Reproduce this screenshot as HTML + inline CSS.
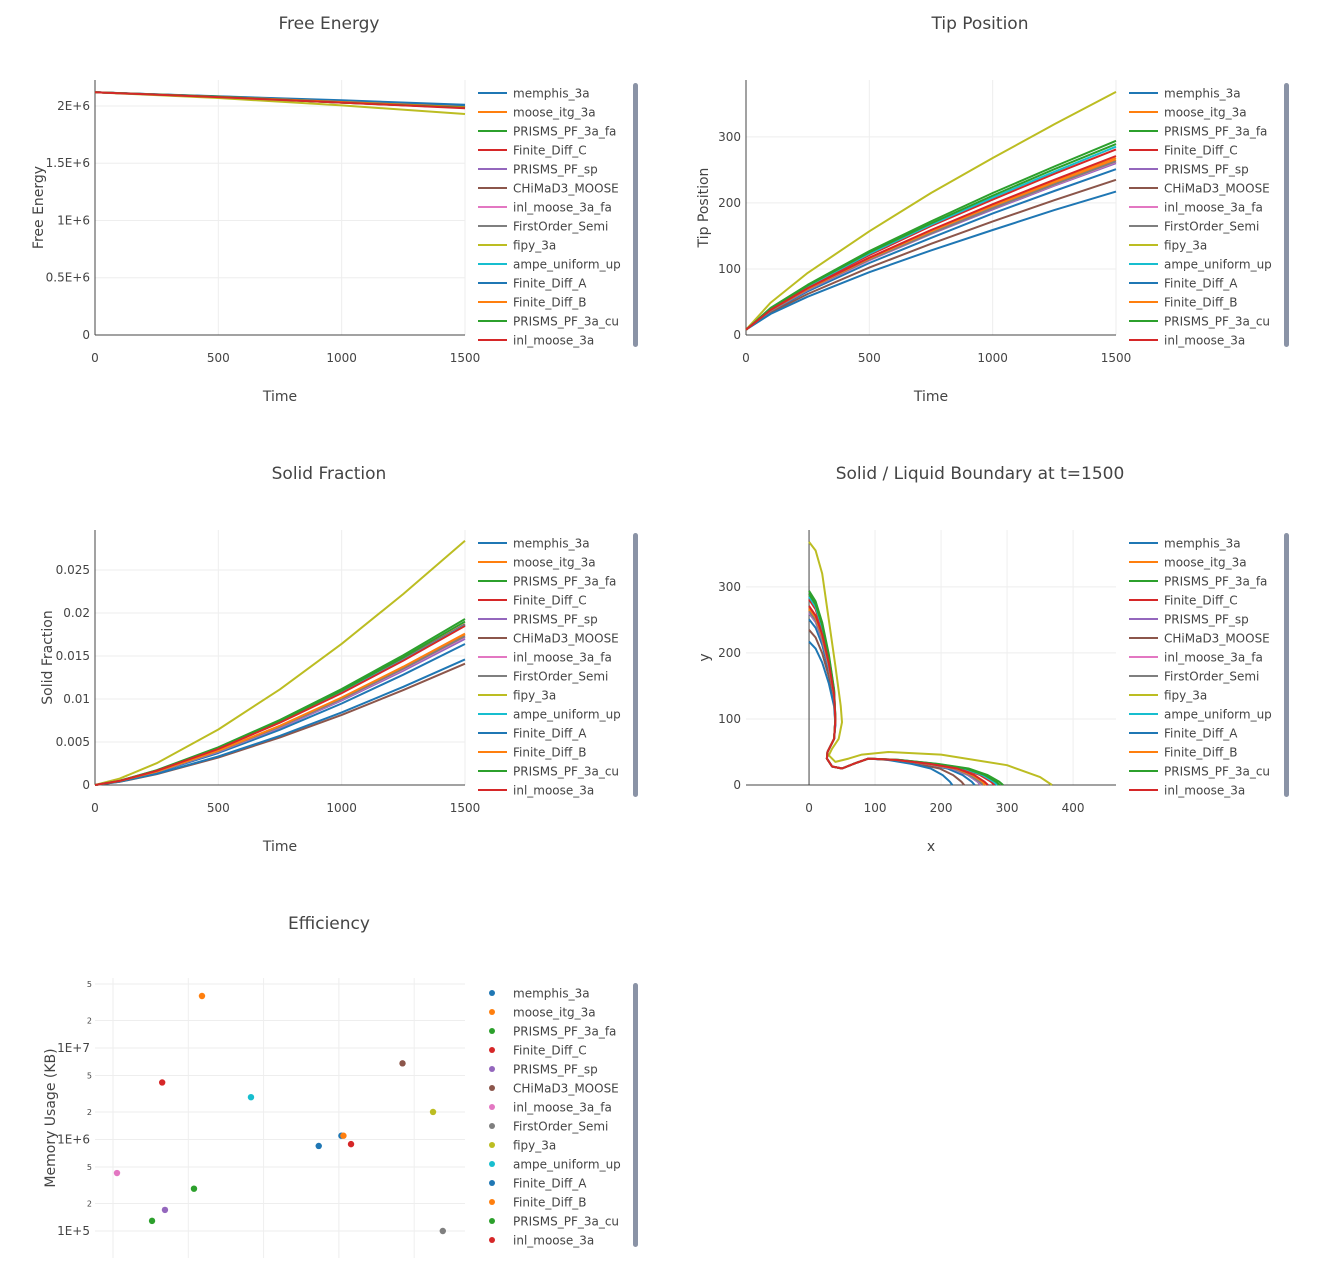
<!DOCTYPE html>
<html><head><meta charset="utf-8">
<style>
body{margin:0;background:#fff;}
svg{font-family:"DejaVu Sans","Liberation Sans",sans-serif;}
</style></head>
<body>
<svg id="root" width="1322" height="1273" xmlns="http://www.w3.org/2000/svg"></svg>
<script>
const seriesNames=["memphis_3a","moose_itg_3a","PRISMS_PF_3a_fa","Finite_Diff_C","PRISMS_PF_sp","CHiMaD3_MOOSE","inl_moose_3a_fa","FirstOrder_Semi","fipy_3a","ampe_uniform_up","Finite_Diff_A","Finite_Diff_B","PRISMS_PF_3a_cu","inl_moose_3a"];
const seriesColors=["#1f77b4","#ff7f0e","#2ca02c","#d62728","#9467bd","#8c564b","#e377c2","#7f7f7f","#bcbd22","#17becf","#1f77b4","#ff7f0e","#2ca02c","#d62728"];
const feTimes=[0,500,1000,1500];
const freeEnergyE6=[
[2.12,2.085,2.05,2.01],[2.12,2.08,2.035,1.99],[2.12,2.08,2.03,1.985],[2.12,2.08,2.03,1.985],
[2.12,2.08,2.035,1.99],[2.12,2.082,2.04,1.995],[2.12,2.08,2.035,1.99],[2.12,2.08,2.035,1.99],
[2.12,2.07,2.005,1.93],[2.12,2.08,2.035,1.99],[2.12,2.083,2.045,2.005],[2.12,2.08,2.035,1.99],
[2.12,2.08,2.03,1.985],[2.12,2.078,2.03,1.98]];
const tipTimes=[0,100,250,500,750,1000,1250,1500];
const tipPos=[
[8,36,66,109,147,184,218,251],[8,38,69,115,156,194,230,265],[8,41,76,127,172,215,255,294],[8,39,73,121,165,205,244,281],
[8,37,68,113,153,190,226,260],[8,34,62,102,138,172,204,235],[8,37,69,113,154,192,227,262],[8,37,69,114,154,192,228,263],
[8,49,94,157,215,268,319,368],[8,40,74,123,167,208,247,285],[8,32,58,95,128,159,189,217],[8,38,70,116,157,196,233,268],
[8,40,75,125,169,211,251,289],[8,38,71,117,159,198,235,271]];
const sfTimes=[0,100,250,500,750,1000,1250,1500];
const solidFracE4=[
[0,4.3,14.6,37.2,64.3,94.8,128.2,164],[0,4.6,15.6,39.7,68.6,101.2,136.9,175],[0,5.0,17.2,43.8,75.7,111.6,150.9,193],[0,4.9,16.6,42.4,73.3,108.1,146.2,187],
[0,4.4,15.1,38.6,66.6,98.3,132.9,170],[0,3.7,12.5,32.0,55.3,81.5,110.3,141],[0,4.5,15.3,39.0,67.4,99.4,134.5,172],[0,4.5,15.4,39.3,67.8,100.0,135.3,173],
[0,7.4,25.3,64.5,111.3,164.2,222.1,284],[0,4.8,16.6,42.2,72.9,107.5,145.5,186],[0,3.8,13.0,33.1,57.2,84.4,114.2,146],[0,4.6,15.7,40.0,69.0,101.7,137.6,176],
[0,4.9,16.9,43.1,74.5,109.8,148.6,190],[0,4.8,16.5,42.0,72.5,106.9,144.7,185]];
const boundaryTipY=[251,265,294,281,260,235,262,263,368,285,217,268,289,271];
const boundaryTipX=[251,265,294,281,260,235,262,263,368,285,217,268,289,271];
const shapeUpperX=[0,10,20,30,38,40,38,28,27,35,50,70,90];
const shapeUpperY=[280,265,235,190,140,100,70,50,40,28,25,33,40];
const shapeLowerX=[130,180,220,245,260,265];
const shapeLowerY=[38,32,25,15,5,0];
const fipyShapeX=[0,10,20,30,40,48,50,45,35,30,40,60,80,120,200,300,350,368];
const fipyShapeY=[368,355,320,250,180,120,95,70,55,45,35,40,46,50,46,30,12,0];
const effTime=[5.4,0.152,0.119,0.045,0.049,70,0.0113,240,178,0.68,10.8,11.5,0.033,14.5];
const effMem=[8.5e5,3.7e7,2.9e5,4.2e6,1.7e5,6.8e6,4.3e5,1.0e5,2.0e6,2.9e6,1.1e6,1.1e6,1.29e5,8.9e5];
const feYTicks=[0,0.5e6,1e6,1.5e6,2e6];
const feYLabels=["0","0.5E+6","1E+6","1.5E+6","2E+6"];
const timeTicks=[0,500,1000,1500];
const tipYTicks=[0,100,200,300];
const sfYTicks=[0,0.005,0.01,0.015,0.02,0.025];
const sfYLabels=["0","0.005","0.01","0.015","0.02","0.025"];
const bXTicks=[0,100,200,300,400];
const bYTicks=[0,100,200,300];
const effXTicks=[0.01,0.1,1,10,100];
const effXLabels=["0.01","0.1","1","10","100"];

const NS="http://www.w3.org/2000/svg";
const root=document.getElementById('root');
function mk(tag,attrs,parent){const e=document.createElementNS(NS,tag);for(const k in attrs)e.setAttribute(k,attrs[k]);(parent||root).appendChild(e);return e;}
function txt(s,attrs,parent){const e=mk('text',attrs,parent);e.textContent=s;return e;}

function panel(o){
  const g=mk('g',{});
  
  
  const sx=v=>o.px0+(o.logx?(Math.log10(v)-o.xmin):(v-o.xmin))/(o.xmax-o.xmin)*(o.px1-o.px0);
  const sy=v=>o.py0-(o.logy?(Math.log10(v)-o.ymin):(v-o.ymin))/(o.ymax-o.ymin)*(o.py0-o.py1);
  // grid
  o.xticks.forEach((t,i)=>{const x=sx(t);
    const l=mk('line',{x1:x,x2:x,y1:o.py1,y2:o.py0,stroke:'#eee','stroke-width':1},g);
    
    const tl=txt(o.xlabels?o.xlabels[i]:String(t),{x:x,y:o.py0+27,'font-size':12,fill:'#444','text-anchor':'middle'},g);
    });
  o.yticks.forEach((t,i)=>{const y=sy(t);
    const l=mk('line',{x1:o.px0,x2:o.px1,y1:y,y2:y,stroke:'#eee','stroke-width':1},g);
    
    const tl=txt(o.ylabels?o.ylabels[i]:String(t),{x:o.px0-(o.yzero?4:3)-2,y:y+4,'font-size':12,fill:'#444','text-anchor':'end'},g);
    });
  if(o.minorY){o.minorY.forEach(m=>{const y=sy(m.v);
    mk('line',{x1:o.px0,x2:o.px1,y1:y,y2:y,stroke:'#eee','stroke-width':1},g);
    const tl=txt(m.l,{x:o.px0-3,y:y+3,'font-size':8,fill:'#444','text-anchor':'end'},g);
    });}
  if(o.zeroX!==undefined){const x=sx(o.zeroX);const l=mk('line',{x1:x,x2:x,y1:o.py1,y2:o.py0,stroke:'#444','stroke-width':1},g);
    }
  if(o.zeroY!==undefined){const y=sy(o.zeroY);const l=mk('line',{x1:o.px0,x2:o.px1,y1:y,y2:y,stroke:'#444','stroke-width':1},g);
    }
  const t=txt(o.title,{x:o.tx,y:29,'font-size':17,fill:'#444','text-anchor':'middle'},g);
  t.setAttribute('y',o.ty);
  
  const xt=txt(o.xtitle,{x:(o.px0+o.px1)/2,y:o.py0+66,'font-size':14,fill:'#444','text-anchor':'middle'},g);
  
  const yc=(o.py0+o.py1)/2;
  const yt=txt(o.ytitle,{x:o.ytx,y:yc,'font-size':14,fill:'#444','text-anchor':'middle',transform:`rotate(-90 ${o.ytx} ${yc})`},g);
  
  return {g,sx,sy};
}
function line(p,xs,ys,color,name){
  const d=xs.map((x,i)=>(i?'L':'M')+p.sx(x).toFixed(1)+','+p.sy(ys[i]).toFixed(1)).join('');
  const e=mk('path',{d:d,fill:'none',stroke:color,'stroke-width':2,'stroke-linejoin':'round'},p.g);
  
  
}
function legend(x0,y0,markers){
  const g=mk('g',{});
  
  
  seriesNames.forEach((n,i)=>{const y=y0+i*19;
    const eg=mk('g',{},g);
    
    
    if(markers) mk('circle',{cx:x0+14,cy:y,r:3,fill:seriesColors[i]},eg);
    else mk('line',{x1:x0,x2:x0+29,y1:y,y2:y,stroke:seriesColors[i],'stroke-width':2},eg);
    txt(n,{x:x0+35,y:y+4.5,'font-size':12,fill:'#444'},eg);});
  const sb=mk('rect',{x:x0+155,y:y0-10,width:5,height:264,rx:2.5,fill:'#8a93a6'},g);
  
}

// Free energy
let p=panel({name:'free-energy-chart',px0:95,px1:465,py0:335,py1:80,xmin:0,xmax:1500,ymin:0,ymax:2.227e6,
 xticks:timeTicks,yticks:feYTicks,ylabels:feYLabels,zeroX:0,zeroY:0,title:'Free Energy',tx:329,ty:29,xtitle:'Time',ytitle:'Free Energy',ytx:43});
freeEnergyE6.forEach((s,i)=>line(p,feTimes,s.map(v=>v*1e6),seriesColors[i],'free-energy-line'));
legend(478,93,false);

// Tip position
p=panel({name:'tip-position-chart',px0:746,px1:1116,py0:335,py1:80,xmin:0,xmax:1500,ymin:0,ymax:386,
 xticks:timeTicks,yticks:tipYTicks,zeroX:0,zeroY:0,title:'Tip Position',tx:980,ty:29,xtitle:'Time',ytitle:'Tip Position',ytx:708});
tipPos.forEach((s,i)=>line(p,tipTimes,s,seriesColors[i],'tip-position-line'));
legend(1129,93,false);

// Solid fraction
p=panel({name:'solid-fraction-chart',px0:95,px1:465,py0:785,py1:530,xmin:0,xmax:1500,ymin:0,ymax:0.02965,
 xticks:timeTicks,yticks:sfYTicks,ylabels:sfYLabels,zeroX:0,zeroY:0,title:'Solid Fraction',tx:329,ty:479,xtitle:'Time',ytitle:'Solid Fraction',ytx:52});
solidFracE4.forEach((s,i)=>line(p,sfTimes,s.map(v=>v*1e-4),seriesColors[i],'solid-fraction-line'));
legend(478,543,false);

// Boundary
p=panel({name:'boundary-chart',px0:746,px1:1116,py0:785,py1:530,xmin:-95.5,xmax:465,ymin:0,ymax:386,
 xticks:bXTicks,yticks:bYTicks,zeroX:0,zeroY:0,title:'Solid / Liquid Boundary at t=1500',tx:980,ty:479,xtitle:'x',ytitle:'y',ytx:709});
boundaryTipY.forEach((ty,i)=>{
  let xs,ys;
  if(seriesNames[i]==='fipy_3a'){
    xs=fipyShapeX.map(x=>x*boundaryTipX[i]/368);ys=fipyShapeY.map(y=>y*ty/368);
  } else {
    xs=shapeUpperX.slice();ys=shapeUpperY.map(y=>y>70?70+(y-70)*(ty-70)/210:y);
    shapeLowerX.forEach((x,k)=>{xs.push(90+(x-90)*(boundaryTipX[i]-90)/175);ys.push(shapeLowerY[k]);});
  }
  line(p,xs,ys,seriesColors[i],'boundary-line');
});
legend(1129,543,false);

// Efficiency
p=panel({name:'efficiency-chart',px0:95,px1:465,py0:1258,py1:978,logx:true,logy:true,xmin:-2.239,xmax:2.675,ymin:4.705,ymax:7.765,
 xticks:effXTicks,xlabels:effXLabels,yticks:[1e5,1e6,1e7],ylabels:["1E+5","1E+6","1E+7"],
 minorY:[{v:2e5,l:'2'},{v:5e5,l:'5'},{v:2e6,l:'2'},{v:5e6,l:'5'},{v:2e7,l:'2'},{v:5e7,l:'5'}],
 title:'Efficiency',tx:329,ty:929,xtitle:'',ytitle:'Memory Usage (KB)',ytx:55});
effTime.forEach((t,i)=>{const c=mk('circle',{cx:p.sx(t),cy:p.sy(effMem[i]),r:3.2,fill:seriesColors[i]},p.g);
  
  });
legend(478,993,true);
</script>
</body></html>
